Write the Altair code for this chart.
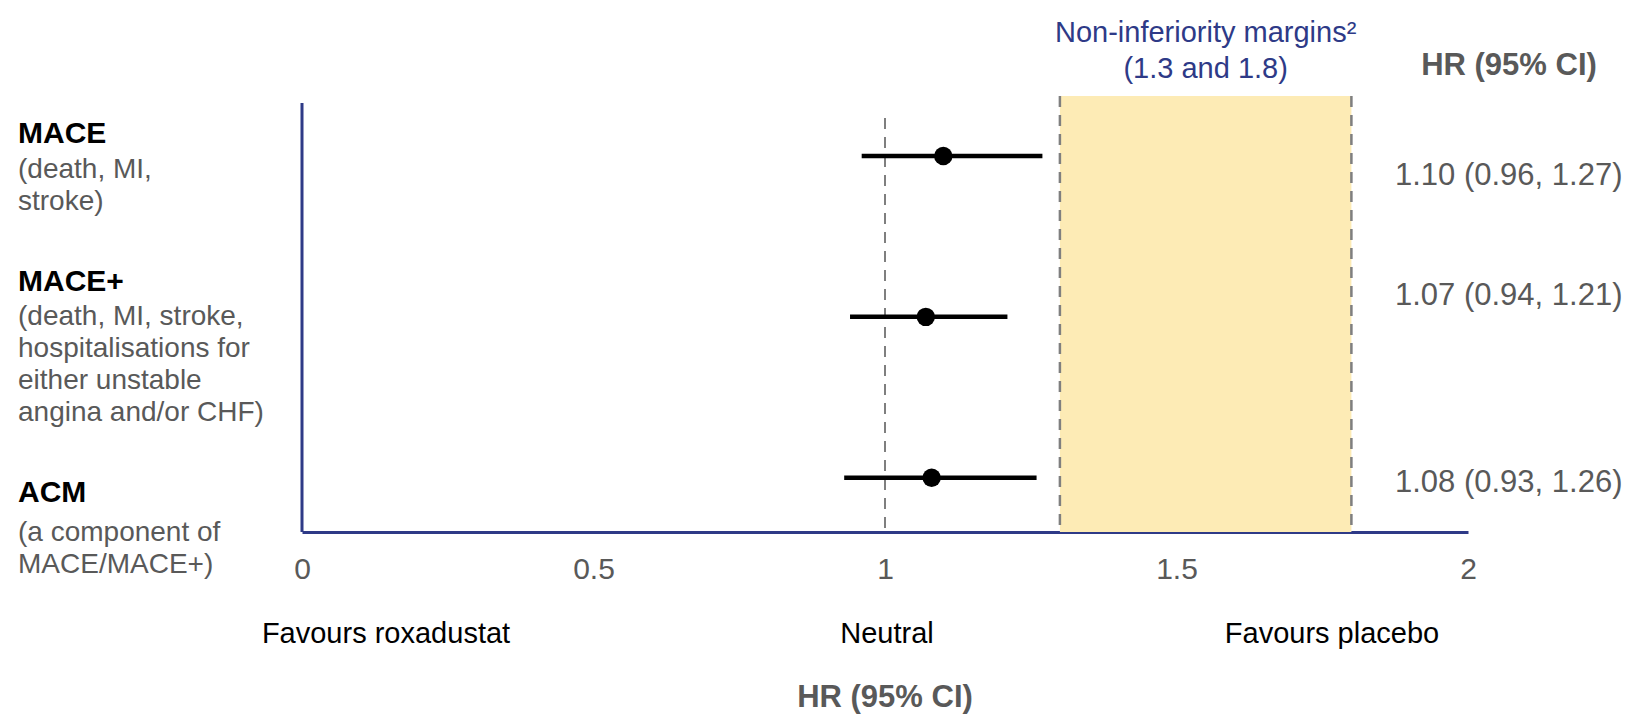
import altair as alt
import pandas as pd

# Hazard ratios (95% CI) by cardiovascular outcome
outcomes = ["MACE", "MACE+", "ACM"]
hr = [1.10, 1.07, 1.08]
ci_low = [0.96, 0.94, 0.93]
ci_high = [1.27, 1.21, 1.26]
descriptions = [
    ["(death, MI,", "stroke)"],
    ["(death, MI, stroke,", "hospitalisations for", "either unstable", "angina and/or CHF)"],
    ["(a component of", "MACE/MACE+)"],
]
margins = [1.3, 1.8]
neutral = [1.0]
x_ticks = [0, 0.5, 1, 1.5, 2]
favour_labels = ["Favours roxadustat", "Neutral", "Favours placebo"]
margin_title = ["Non-inferiority margins\u00b2", "(1.3 and 1.8)"]
column_title = "HR (95% CI)"

# Layout and styling
W, H = 1166, 436
PAD = {"left": 302, "top": 96, "right": 164, "bottom": 185}
NAVY = "#2E3A87"
GREY_TEXT = "#595959"
BAND = "#FDEBB5"
DASH = "#7F7F7F"
FONT = "Liberation Sans"
title_dy = [-22, -35, 15]
desc_dy = [0, -14, 41]
value_dy = [20, -21, 5]
favour_x = [84, 585, 1030]

df = pd.DataFrame({
    "outcome": outcomes,
    "hr": hr,
    "lo": ci_low,
    "hi": ci_high,
    "desc": ["\n".join(d) for d in descriptions],
})
df["label"] = [f"{h:.2f} ({l:.2f}, {u:.2f})" for h, l, u in zip(hr, ci_low, ci_high)]

xscale = alt.Scale(domain=[0, 2], nice=False, zero=False)
xaxis = alt.Axis(
    values=x_ticks, format="~g", title=None, grid=False, ticks=False, tickSize=0,
    domainColor=NAVY, domainWidth=3, labelFont=FONT, labelFontSize=30,
    labelColor=GREY_TEXT, labelPadding=22, labelFlush=False,
)
yscale = alt.Scale(type="point", domain=outcomes, padding=0.355, align=0.525)


def xq(field):
    return alt.X(field, type="quantitative", scale=xscale, axis=xaxis)


def yrow():
    return alt.Y("outcome:N", scale=yscale, axis=None)


layers = []

# Non-inferiority band and its dashed edges
band = alt.Chart(pd.DataFrame({"m0": [margins[0]], "m1": [margins[1]]})).mark_rect(
    color=BAND
).encode(x=xq("m0"), x2="m1:Q")
layers.append(band)

edges = alt.Chart(pd.DataFrame({"m": margins})).mark_rule(
    color=DASH, strokeWidth=2.5, strokeDash=[11, 8]
).encode(x=xq("m"))
layers.append(edges)

neutral_line = alt.Chart(pd.DataFrame({"n": neutral})).mark_rule(
    color=DASH, strokeWidth=2, strokeDash=[11, 8]
).encode(x=xq("n"), y=alt.value(22), y2=alt.value(H))
layers.append(neutral_line)

# Vertical axis line
y_line = alt.Chart(pd.DataFrame({"a": [0]})).mark_rule(
    color=NAVY, strokeWidth=3
).encode(x=alt.value(0), y=alt.value(7), y2=alt.value(H))
layers.append(y_line)

# Confidence intervals and point estimates
ci = alt.Chart(df).mark_rule(color="black", strokeWidth=4.5).encode(
    x=xq("lo"), x2="hi:Q", y=yrow()
)
pts = alt.Chart(df).mark_circle(color="black", opacity=1, size=340).encode(
    x=xq("hr"), y=yrow()
)
layers += [ci, pts]

# Row labels on the left and values on the right
for i, name in enumerate(outcomes):
    row = df[df["outcome"] == name]
    layers.append(
        alt.Chart(row).mark_text(
            align="left", baseline="middle", font=FONT, fontSize=30,
            fontWeight="bold", color="black", dy=title_dy[i]
        ).encode(text="outcome:N", x=alt.value(-284), y=yrow())
    )
    layers.append(
        alt.Chart(row).mark_text(
            align="left", baseline="top", font=FONT, fontSize=28,
            color=GREY_TEXT, lineBreak="\n", lineHeight=32, dy=desc_dy[i]
        ).encode(text="desc:N", x=alt.value(-284), y=yrow())
    )
    layers.append(
        alt.Chart(row).mark_text(
            align="left", baseline="middle", font=FONT, fontSize=31,
            color=GREY_TEXT, dy=value_dy[i]
        ).encode(text="label:N", x=alt.value(1093), y=yrow())
    )

# Band title
mid = sum(margins) / 2
for line, ypos in zip(margin_title, [-63, -27]):
    layers.append(
        alt.Chart(pd.DataFrame({"t": [line], "x": [mid]})).mark_text(
            align="center", baseline="middle", font=FONT, fontSize=29, color=NAVY
        ).encode(text="t:N", x=xq("x"), y=alt.value(ypos))
    )

# Column header and axis title
for xpos, ypos in [(1207, -30), (583, 602)]:
    layers.append(
        alt.Chart(pd.DataFrame({"t": [column_title]})).mark_text(
            align="center", baseline="middle", font=FONT, fontSize=31,
            fontWeight="bold", color=GREY_TEXT
        ).encode(text="t:N", x=alt.value(xpos), y=alt.value(ypos))
    )

# Direction labels under the axis
for lab, xpos in zip(favour_labels, favour_x):
    layers.append(
        alt.Chart(pd.DataFrame({"t": [lab]})).mark_text(
            align="center", baseline="middle", font=FONT, fontSize=29, color="black"
        ).encode(text="t:N", x=alt.value(xpos), y=alt.value(538))
    )

chart = alt.layer(*layers).properties(
    width=W,
    height=H,
    autosize=alt.AutoSizeParams(type="none"),
    padding=PAD,
    background="white",
).configure_view(stroke=None)

chart.save("out.html", embed_options={"renderer": "svg", "actions": False})
